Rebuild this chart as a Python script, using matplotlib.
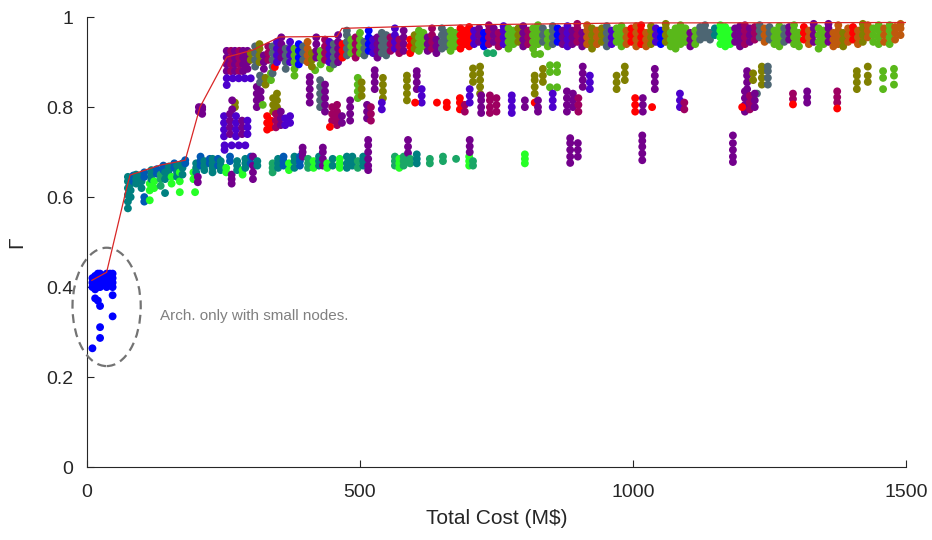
import matplotlib
matplotlib.use("Agg")
import matplotlib.pyplot as plt
from matplotlib.patches import Ellipse

plt.rcParams['font.family'] = ['Liberation Sans', 'DejaVu Sans']

# colour keys
palette = {
    'B': (0.0, 0.0, 1.0),      # blue
    'V': (0.3, 0.0, 0.8),      # blue-violet
    'P': (0.45, 0.0, 0.55),    # purple
    'M': (0.62, 0.0, 0.38),    # magenta
    'R': (1.0, 0.0, 0.0),      # red
    'O': (0.5, 0.5, 0.0),      # olive
    'G': (0.35, 0.72, 0.1),    # green
    'L': (0.15, 1.0, 0.15),    # bright green
    'T': (0.0, 0.5, 0.5),      # teal
    'E': (0.0, 0.35, 0.7),     # blue-teal
    'S': (0.3, 0.4, 0.45),     # slate
    'N': (0.75, 0.35, 0.05),   # orange-brown
    'Q': (0.1, 0.65, 0.4),     # sea green
}

# Pareto frontier
front_x = [9, 36, 73, 79, 134, 180, 207, 256, 304, 353, 458, 467, 700, 1000, 1500]
front_y = [0.415, 0.433, 0.622, 0.649, 0.671, 0.682, 0.80, 0.911, 0.927, 0.956, 0.957, 0.975, 0.983, 0.987, 0.988]

# architectures with only small nodes: (cost, [gamma values], colour)
small_nodes = [
    (10, [0.264, 0.40, 0.41, 0.42], 'B'),
    (15, [0.375, 0.395, 0.405, 0.415, 0.425], 'B'),
    (20, [0.37, 0.40, 0.41, 0.42, 0.43], 'B'),
    (24, [0.287, 0.311, 0.358, 0.40, 0.415, 0.43], 'B'),
    (30, [0.405, 0.415, 0.425], 'B'),
    (36, [0.40, 0.41, 0.42, 0.43], 'B'),
    (42, [0.41, 0.42, 0.43], 'B'),
    (47, [0.335, 0.382, 0.40, 0.41, 0.42, 0.43], 'B'),
]

# lower band (gamma ~0.57-0.70)
low_band = [
    (75, [0.575, 0.59, 0.605, 0.62, 0.635, 0.645], 'T'),
    (80, [0.60, 0.615, 0.63, 0.64], 'T'),
    (85, [0.635, 0.648], 'E'),
    (90, [0.63, 0.64, 0.65], 'T'),
    (100, [0.62, 0.635, 0.648], 'T'),
    (105, [0.59, 0.60, 0.645, 0.655], 'E'),
    (115, [0.593, 0.615, 0.63], 'L'),
    (118, [0.64, 0.65, 0.66], 'T'),
    (123, [0.62, 0.635], 'L'),
    (128, [0.652, 0.662], 'E'),
    (135, [0.625, 0.64, 0.65], 'Q'),
    (140, [0.66, 0.67], 'E'),
    (143, [0.609, 0.64, 0.655], 'T'),
    (150, [0.65, 0.66, 0.668], 'T'),
    (155, [0.63, 0.645], 'L'),
    (160, [0.665, 0.675], 'E'),
    (165, [0.645, 0.655, 0.67], 'T'),
    (170, [0.611, 0.635, 0.655], 'L'),
    (175, [0.65, 0.665, 0.675], 'T'),
    (180, [0.675, 0.682], 'E'),
    (195, [0.64, 0.655], 'L'),
    (198, [0.611], 'L'),
    (200, [0.655, 0.665, 0.675], 'T'),
    (203, [0.633, 0.645], 'P'),
    (208, [0.67, 0.68, 0.69], 'E'),
    (215, [0.66, 0.67, 0.68], 'T'),
    (225, [0.675, 0.685], 'E'),
    (230, [0.655, 0.665, 0.675, 0.685], 'T'),
    (240, [0.67, 0.685], 'E'),
    (245, [0.66, 0.67, 0.68], 'T'),
    (255, [0.655, 0.665], 'L'),
    (262, [0.68, 0.69], 'E'),
    (265, [0.63, 0.64, 0.65], 'P'),
    (275, [0.66, 0.67, 0.68], 'T'),
    (285, [0.65, 0.66], 'L'),
    (290, [0.665, 0.675, 0.685], 'T'),
    (300, [0.675, 0.69], 'E'),
    (304, [0.64, 0.655, 0.67, 0.69], 'P'),
    (312, [0.67, 0.68], 'T'),
    (340, [0.655, 0.665, 0.675], 'Q'),
    (350, [0.665, 0.675, 0.685], 'T'),
    (360, [0.67, 0.68, 0.69], 'E'),
    (370, [0.66, 0.675], 'L'),
    (380, [0.665, 0.68, 0.69], 'T'),
    (390, [0.67, 0.68, 0.69], 'E'),
    (395, [0.69, 0.70, 0.71], 'P'),
    (405, [0.665, 0.675, 0.685], 'Q'),
    (415, [0.665, 0.68], 'L'),
    (425, [0.67, 0.68, 0.69], 'T'),
    (432, [0.67, 0.685, 0.70, 0.71], 'P'),
    (440, [0.665, 0.675], 'L'),
    (450, [0.67, 0.685], 'T'),
    (463, [0.665, 0.675, 0.685], 'L'),
    (476, [0.665, 0.675, 0.69], 'T'),
    (486, [0.67, 0.68, 0.69], 'T'),
    (496, [0.665, 0.68], 'Q'),
    (506, [0.67, 0.68, 0.69], 'T'),
    (515, [0.66, 0.67, 0.685, 0.70, 0.715, 0.727], 'P'),
    (564, [0.67, 0.68, 0.69], 'Q'),
    (572, [0.665, 0.675, 0.685], 'L'),
    (580, [0.67, 0.68, 0.69], 'Q'),
    (588, [0.698, 0.712, 0.727], 'P'),
    (592, [0.675, 0.685], 'Q'),
    (604, [0.675, 0.685, 0.695], 'T'),
    (628, [0.675, 0.685], 'Q'),
    (652, [0.68, 0.69], 'Q'),
    (676, [0.685], 'Q'),
    (700, [0.67, 0.68, 0.69], 'L'),
    (707, [0.67, 0.68], 'Q'),
    (701, [0.70, 0.713, 0.727], 'P'),
    (802, [0.675, 0.685, 0.695], 'L'),
    (885, [0.676, 0.69, 0.705, 0.72, 0.731], 'P'),
    (899, [0.69, 0.705, 0.72], 'P'),
    (1017, [0.682, 0.697, 0.712, 0.725, 0.737], 'P'),
    (1183, [0.678, 0.69, 0.705, 0.72, 0.737], 'P'),
]

# middle band (gamma ~0.70-0.90)
mid_band = [
    (205, [0.79, 0.80], 'P'), (211, [0.785, 0.795, 0.80], 'P'),
    (256, [0.88, 0.895, 0.91, 0.925], 'P'), (264, [0.88, 0.895, 0.91, 0.925], 'M'),
    (271, [0.88, 0.895, 0.91, 0.925], 'P'), (279, [0.88, 0.895, 0.91, 0.925], 'M'),
    (286, [0.88, 0.895, 0.91, 0.925], 'P'), (294, [0.885, 0.90, 0.915, 0.925], 'P'),
    (256, [0.849, 0.864], 'V'), (267, [0.864], 'V'), (278, [0.864], 'V'),
    (289, [0.864], 'V'), (300, [0.864], 'V'),
    (251, [0.735, 0.75, 0.765, 0.78], 'V'), (262, [0.74, 0.755, 0.77, 0.785], 'P'),
    (273, [0.735, 0.75, 0.765, 0.78], 'V'), (284, [0.74, 0.755, 0.77], 'P'),
    (294, [0.74, 0.755, 0.77], 'V'),
    (271, [0.80, 0.81], 'O'), (266, [0.795, 0.815], 'P'),
    (252, [0.705, 0.715], 'V'), (265, [0.715], 'V'), (278, [0.715], 'V'), (290, [0.715], 'V'),
    (311, [0.80, 0.815, 0.83, 0.845], 'P'), (318, [0.82, 0.835], 'P'), (322, [0.805], 'G'),
    (341, [0.79, 0.805, 0.82], 'O'), (348, [0.80, 0.815, 0.83], 'O'),
    (330, [0.75, 0.765, 0.78], 'R'), (337, [0.755, 0.77], 'R'),
    (346, [0.755, 0.77, 0.785], 'M'), (355, [0.76, 0.775, 0.79], 'P'),
    (363, [0.76, 0.775], 'V'), (372, [0.765, 0.78], 'V'),
    (317, [0.855, 0.87], 'S'), (327, [0.85, 0.865], 'O'), (337, [0.86, 0.875], 'G'),
    (418, [0.882], 'G'), (445, [0.886], 'G'),
    (408, [0.81, 0.825, 0.84, 0.855, 0.867], 'P'), (427, [0.80, 0.815, 0.83, 0.845, 0.86], 'S'),
    (436, [0.79, 0.805, 0.82, 0.835, 0.85], 'P'),
    (449, [0.77, 0.785, 0.80], 'M'), (458, [0.76, 0.775, 0.79, 0.805], 'M'), (467, [0.765, 0.78], 'P'),
    (445, [0.756], 'R'),
    (482, [0.77, 0.785, 0.80, 0.815], 'P'),
    (496, [0.82, 0.835, 0.85, 0.865], 'G'), (503, [0.825, 0.84, 0.855], 'O'),
    (513, [0.775, 0.79, 0.805], 'P'), (520, [0.77, 0.785, 0.80], 'M'),
    (527, [0.84, 0.855, 0.87, 0.882], 'P'),
    (542, [0.82, 0.835, 0.85, 0.865], 'O'), (540, [0.795, 0.81], 'V'),
    (586, [0.815, 0.83, 0.845, 0.86, 0.87], 'O'),
    (604, [0.84, 0.855, 0.87, 0.88], 'P'), (613, [0.81, 0.825, 0.84], 'V'),
    (601, [0.81], 'R'), (641, [0.81], 'R'), (659, [0.80, 0.81], 'R'),
    (683, [0.795, 0.81, 0.82], 'R'), (692, [0.79, 0.805], 'M'),
    (701, [0.81, 0.825, 0.84], 'V'),
    (707, [0.856, 0.871, 0.886], 'O'),
    (720, [0.83, 0.845, 0.86, 0.875, 0.89], 'O'),
    (722, [0.787, 0.80, 0.815, 0.826], 'P'),
    (738, [0.787, 0.80, 0.815, 0.826], 'M'), (750, [0.79, 0.805, 0.82], 'M'),
    (778, [0.787, 0.80, 0.815, 0.826], 'V'),
    (802, [0.80, 0.815], 'P'),
    (820, [0.81], 'R'), (826, [0.79, 0.80, 0.815], 'P'),
    (820, [0.83, 0.845, 0.86, 0.87], 'O'), (835, [0.856, 0.87, 0.885], 'O'),
    (848, [0.844, 0.878, 0.893], 'G'), (861, [0.844, 0.878, 0.893], 'G'),
    (853, [0.80, 0.815, 0.83], 'V'),
    (879, [0.79, 0.805, 0.82, 0.835], 'P'), (890, [0.80, 0.815, 0.83], 'P'),
    (900, [0.79, 0.805, 0.82], 'M'),
    (908, [0.845, 0.86, 0.875, 0.89], 'P'), (921, [0.84, 0.855, 0.87], 'V'),
    (970, [0.84, 0.855, 0.87], 'O'), (985, [0.86, 0.875, 0.89], 'O'),
    (1004, [0.79, 0.805, 0.82], 'R'),
    (1018, [0.79, 0.805, 0.82], 'P'), (1035, [0.80], 'R'),
    (1040, [0.84, 0.855, 0.87, 0.885], 'P'),
    (1086, [0.80, 0.815, 0.83], 'V'), (1094, [0.795, 0.81], 'M'),
    (1209, [0.84, 0.855, 0.87, 0.88], 'P'), (1220, [0.86, 0.875], 'O'),
    (1236, [0.85, 0.865, 0.88, 0.89], 'O'), (1247, [0.85, 0.865, 0.88, 0.89], 'S'),
    (1227, [0.83], 'S'),
    (1205, [0.79, 0.805, 0.82, 0.835], 'P'), (1214, [0.795, 0.81, 0.825], 'M'),
    (1200, [0.80], 'R'), (1223, [0.80, 0.815, 0.83], 'P'),
    (1293, [0.818, 0.83], 'M'), (1293, [0.806], 'R'),
    (1319, [0.81, 0.822, 0.835], 'P'),
    (1374, [0.81, 0.822, 0.835], 'M'), (1374, [0.797], 'R'),
    (1410, [0.84, 0.855, 0.87, 0.88], 'O'), (1430, [0.856, 0.87, 0.89], 'O'),
    (1458, [0.84, 0.865, 0.88], 'G'), (1478, [0.85, 0.87, 0.885], 'G'),
]

# top band (gamma ~0.90-0.99)
top_band = [
    (300, [0.905, 0.92], 'O'), (308, [0.89, 0.905, 0.92, 0.935], 'S'),
    (316, [0.90, 0.915, 0.93, 0.94], 'O'), (324, [0.885, 0.90, 0.915], 'P'),
    (332, [0.905, 0.92, 0.935], 'M'), (340, [0.875, 0.89, 0.905, 0.92, 0.935], 'S'),
    (344, [0.889], 'R'),
    (348, [0.90, 0.915, 0.93, 0.945], 'V'), (356, [0.91, 0.925, 0.94, 0.955], 'P'),
    (364, [0.885, 0.90, 0.915, 0.93], 'S'), (372, [0.90, 0.915, 0.93, 0.945], 'V'),
    (380, [0.87, 0.885, 0.90, 0.915, 0.93], 'G'), (388, [0.895, 0.91, 0.925, 0.94], 'B'),
    (396, [0.905, 0.92, 0.935], 'S'), (404, [0.90, 0.915, 0.93, 0.945], 'N'),
    (412, [0.89, 0.905, 0.92], 'O'), (420, [0.91, 0.925, 0.94, 0.955], 'P'),
    (428, [0.895, 0.91, 0.925], 'G'), (436, [0.905, 0.92, 0.935, 0.95], 'M'),
    (444, [0.90, 0.915, 0.93, 0.945], 'V'), (452, [0.895, 0.91, 0.925, 0.94], 'S'),
    (460, [0.90, 0.915, 0.93, 0.945, 0.96], 'P'), (468, [0.91, 0.925, 0.94], 'R'),
    (476, [0.915, 0.93, 0.945, 0.96, 0.97], 'S'), (484, [0.92, 0.935, 0.95], 'G'),
    (492, [0.91, 0.925, 0.94, 0.955], 'M'), (500, [0.92, 0.935, 0.95, 0.965], 'G'),
    (508, [0.915, 0.93, 0.945], 'S'), (516, [0.925, 0.94, 0.955, 0.97], 'B'),
    (524, [0.92, 0.935, 0.95], 'V'), (532, [0.91, 0.925, 0.94, 0.955], 'P'),
    (540, [0.92, 0.935, 0.95, 0.965], 'S'), (548, [0.915, 0.93, 0.945, 0.96], 'S'),
    (556, [0.925, 0.94, 0.955], 'M'), (564, [0.93, 0.945, 0.96, 0.975], 'V'),
    (572, [0.92, 0.935, 0.95], 'M'), (580, [0.925, 0.94, 0.955, 0.97], 'P'),
    (592, [0.92, 0.935, 0.95], 'R'), (600, [0.93, 0.945, 0.96], 'O'),
    (608, [0.925, 0.94, 0.955, 0.97], 'G'), (616, [0.935, 0.95, 0.965], 'G'),
    (624, [0.925, 0.94, 0.955], 'P'), (632, [0.93, 0.945, 0.96, 0.975], 'M'),
    (640, [0.92, 0.935, 0.95], 'P'), (650, [0.93, 0.945, 0.96, 0.975], 'S'),
    (658, [0.935, 0.95, 0.965], 'S'), (666, [0.925, 0.94, 0.955, 0.97], 'G'),
    (674, [0.935, 0.95, 0.965], 'G'), (684, [0.93, 0.945, 0.96, 0.975], 'R'),
    (692, [0.94, 0.955, 0.97], 'R'),
    (700, [0.935, 0.95, 0.965, 0.978], 'R'), (709, [0.94, 0.955, 0.97], 'V'),
    (718, [0.945, 0.96, 0.975], 'P'), (727, [0.935, 0.95, 0.965], 'B'),
    (733, [0.92], 'Q'), (744, [0.92], 'Q'),
    (736, [0.94, 0.955, 0.97, 0.982], 'M'), (745, [0.945, 0.96, 0.975], 'P'),
    (754, [0.935, 0.95, 0.965], 'M'), (763, [0.94, 0.955, 0.97, 0.98], 'V'),
    (772, [0.93, 0.945, 0.96, 0.975], 'G'), (781, [0.94, 0.955, 0.97], 'G'),
    (790, [0.945, 0.96, 0.975], 'O'), (799, [0.935, 0.95, 0.965, 0.98], 'P'),
    (808, [0.94, 0.955, 0.97], 'M'), (817, [0.93, 0.945, 0.96, 0.975], 'G'),
    (820, [0.918], 'G'), (830, [0.918], 'G'),
    (826, [0.94, 0.955, 0.97, 0.982], 'G'), (835, [0.945, 0.96, 0.975], 'S'),
    (844, [0.935, 0.95, 0.965], 'G'), (853, [0.94, 0.955, 0.97, 0.98], 'S'),
    (862, [0.945, 0.96, 0.975], 'B'), (871, [0.94, 0.955, 0.97], 'P'),
    (880, [0.935, 0.95, 0.965, 0.98], 'V'), (889, [0.94, 0.955, 0.97], 'P'),
    (898, [0.945, 0.96, 0.975, 0.985], 'M'), (907, [0.935, 0.95, 0.965], 'P'),
    (916, [0.94, 0.955, 0.97, 0.982], 'N'), (925, [0.93, 0.945, 0.96, 0.975], 'O'),
    (934, [0.94, 0.955, 0.97], 'N'), (943, [0.945, 0.96, 0.975], 'O'),
    (952, [0.935, 0.95, 0.965, 0.98], 'S'), (961, [0.94, 0.955, 0.97], 'V'),
    (970, [0.945, 0.96, 0.975], 'G'), (979, [0.935, 0.95, 0.965, 0.98], 'G'),
    (988, [0.94, 0.955, 0.97], 'N'), (997, [0.945, 0.96, 0.975], 'R'),
    (1006, [0.935, 0.95, 0.965, 0.98], 'N'), (1015, [0.94, 0.955, 0.97, 0.982], 'R'),
    (1024, [0.935, 0.95, 0.965], 'N'), (1033, [0.94, 0.955, 0.97, 0.98], 'O'),
    (1042, [0.945, 0.96, 0.975], 'V'), (1051, [0.94, 0.955, 0.97], 'B'),
    (1060, [0.945, 0.96, 0.975, 0.985], 'O'), (1069, [0.935, 0.95, 0.965], 'G'),
    (1078, [0.93, 0.945, 0.96, 0.975], 'G'), (1087, [0.94, 0.955, 0.97, 0.982], 'G'),
    (1096, [0.945, 0.96, 0.975], 'G'), (1105, [0.935, 0.95, 0.965], 'P'),
    (1114, [0.94, 0.955, 0.97], 'G'), (1123, [0.95, 0.965, 0.978], 'S'),
    (1132, [0.955, 0.97, 0.982], 'S'), (1141, [0.95, 0.965], 'S'),
    (1150, [0.96, 0.975], 'T'), (1160, [0.94, 0.955, 0.97, 0.982], 'L'),
    (1169, [0.935, 0.95, 0.965, 0.978], 'L'), (1178, [0.94, 0.955, 0.97], 'L'),
    (1187, [0.945, 0.96, 0.975], 'P'), (1196, [0.935, 0.95, 0.965, 0.98], 'P'),
    (1205, [0.94, 0.955, 0.97, 0.982], 'M'), (1214, [0.945, 0.96, 0.975], 'P'),
    (1223, [0.95, 0.965, 0.978], 'M'), (1232, [0.955, 0.97, 0.982], 'S'),
    (1241, [0.945, 0.96, 0.975], 'N'), (1250, [0.95, 0.965, 0.978], 'S'),
    (1259, [0.94, 0.955, 0.97], 'G'), (1268, [0.935, 0.95, 0.965, 0.98], 'G'),
    (1277, [0.945, 0.96, 0.975], 'S'), (1286, [0.95, 0.965, 0.978], 'P'),
    (1295, [0.94, 0.955, 0.97, 0.982], 'G'), (1304, [0.935, 0.95, 0.965], 'G'),
    (1313, [0.95, 0.965, 0.978], 'R'), (1322, [0.94, 0.955, 0.97], 'N'),
    (1331, [0.945, 0.96, 0.975, 0.985], 'P'), (1340, [0.93, 0.945, 0.96, 0.975], 'G'),
    (1349, [0.94, 0.955, 0.97], 'G'), (1358, [0.945, 0.96, 0.975, 0.985], 'P'),
    (1367, [0.935, 0.95, 0.965], 'N'), (1376, [0.94, 0.955, 0.97, 0.982], 'N'),
    (1385, [0.935, 0.95, 0.965], 'O'), (1394, [0.945, 0.96, 0.975], 'N'),
    (1403, [0.95, 0.965, 0.978], 'R'), (1412, [0.94, 0.955, 0.97], 'N'),
    (1421, [0.945, 0.96, 0.975, 0.985], 'O'), (1430, [0.955, 0.97, 0.982], 'N'),
    (1440, [0.945, 0.96, 0.975], 'G'), (1450, [0.94, 0.955, 0.97, 0.982], 'G'),
    (1460, [0.945, 0.96, 0.975], 'N'), (1470, [0.94, 0.955, 0.97, 0.982], 'G'),
    (1480, [0.95, 0.965, 0.978], 'N'), (1490, [0.96, 0.975, 0.985], 'N'),
]

xs, ys, cs = [], [], []
for group in (low_band, mid_band, top_band, small_nodes):
    for x, gammas, key in group:
        for g in gammas:
            xs.append(x)
            ys.append(g)
            cs.append(palette[key])

fig = plt.figure(figsize=(9.32, 5.40), dpi=100)
ax = fig.add_axes([0.0933, 0.135, 0.8788, 0.8333])

ax.scatter(xs, ys, s=32, c=cs, linewidths=0, zorder=2)
ax.plot(front_x, front_y, color=(0.85, 0.15, 0.15), lw=0.9, zorder=3)

ell = Ellipse((36, 0.356), width=125, height=0.263, fill=False,
              edgecolor=(0.45, 0.45, 0.45), lw=1.6, linestyle=(0, (4, 2.5)),
              zorder=4, clip_on=False)
ax.add_patch(ell)
ax.text(134, 0.336, 'Arch. only with small nodes.', color=(0.5, 0.5, 0.5),
        fontsize=11, va='center', ha='left')

ax.set_xlim(0, 1500)
ax.set_ylim(0, 1)
ax.set_xticks([0, 500, 1000, 1500])
ax.set_yticks([0, 0.2, 0.4, 0.6, 0.8, 1])
ax.set_yticklabels(['0', '0.2', '0.4', '0.6', '0.8', '1'])
for sp in ('top', 'right'):
    ax.spines[sp].set_visible(False)
for sp in ('left', 'bottom'):
    ax.spines[sp].set_color((0.15, 0.15, 0.15))
    ax.spines[sp].set_linewidth(0.8)
ax.tick_params(direction='in', length=5, width=0.8, colors=(0.15, 0.15, 0.15),
               labelsize=14)
ax.tick_params(axis='x', pad=12)
ax.tick_params(axis='y', pad=10)
ax.set_xlabel('Total Cost (M$)', fontsize=15, color=(0.15, 0.15, 0.15), labelpad=6)
ax.set_ylabel('Γ', fontsize=15, color=(0.15, 0.15, 0.15), labelpad=14)

fig.savefig('out.png', dpi=100)
